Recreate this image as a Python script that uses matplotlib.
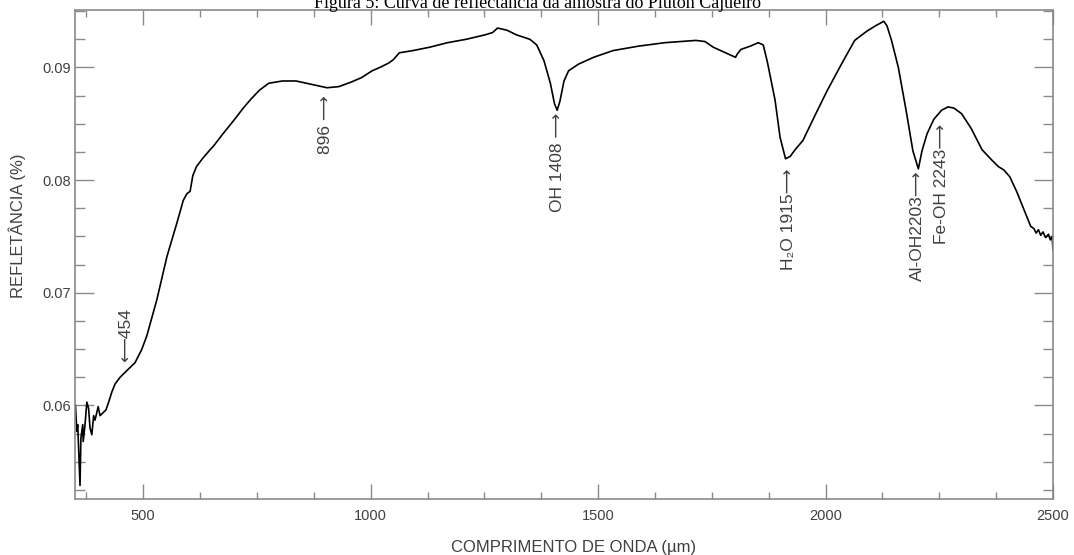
import matplotlib
matplotlib.use("Agg")
import matplotlib.pyplot as plt
from matplotlib.ticker import MultipleLocator

# Reflectance curve
wavelength = [
    351, 354, 356, 361, 363, 367, 368, 372, 376, 380, 383, 387, 391, 394,
    401, 405, 413, 418, 424, 431, 438, 449, 464, 482, 497, 508, 530, 552,
    574, 588, 596, 603, 609, 617, 630, 647, 654, 675, 699, 720, 737, 756,
    776, 806, 836, 870, 904, 930, 957, 980, 1003, 1020, 1040, 1050, 1063,
    1093, 1130, 1169, 1210, 1252, 1268, 1279, 1300, 1320, 1350, 1365, 1381,
    1395, 1404, 1410, 1416, 1425, 1435, 1457, 1490, 1533, 1590, 1647, 1715,
    1735, 1753, 1780, 1802, 1806, 1814, 1835, 1852, 1863, 1872, 1889, 1900,
    1912, 1922, 1935, 1950, 1975, 2003, 2035, 2064, 2090, 2110, 2128, 2135,
    2145, 2160, 2177, 2192, 2204, 2212, 2223, 2238, 2255, 2269, 2282, 2299,
    2320, 2344, 2365, 2380, 2392, 2405, 2420, 2440, 2451, 2458, 2463, 2468,
    2473, 2478, 2484, 2490, 2494, 2498, 2500,
]
reflectance = [
    0.0600, 0.0577, 0.0583, 0.0529, 0.0571, 0.0583, 0.0568, 0.0583, 0.0603,
    0.0597, 0.0580, 0.0574, 0.0591, 0.0587, 0.0599, 0.0591, 0.0594, 0.0596,
    0.0603, 0.0612, 0.0619, 0.0625, 0.0631, 0.0638, 0.0650, 0.0662, 0.0694,
    0.0732, 0.0762, 0.0782, 0.0788, 0.0790, 0.0804, 0.0812, 0.0819, 0.0827,
    0.0830, 0.0841, 0.0853, 0.0864, 0.0872, 0.0880, 0.0886, 0.0888, 0.0888,
    0.0885, 0.0882, 0.0883, 0.0887, 0.0891, 0.0897, 0.0900, 0.0904, 0.0907,
    0.0913, 0.0915, 0.0918, 0.0922, 0.0925, 0.0929, 0.0931, 0.0935, 0.0933,
    0.0929, 0.0925, 0.0920, 0.0906, 0.0886, 0.0868, 0.0862, 0.0870, 0.0888,
    0.0897, 0.0903, 0.0909, 0.0915, 0.0919, 0.0922, 0.0924, 0.0923, 0.0918,
    0.0913, 0.0909, 0.0912, 0.0916, 0.0919, 0.0922, 0.0920, 0.0905, 0.0871,
    0.0838, 0.0819, 0.0821, 0.0828, 0.0835, 0.0856, 0.0879, 0.0903, 0.0924,
    0.0932, 0.0937, 0.0941, 0.0937, 0.0924, 0.0900, 0.0862, 0.0826, 0.0810,
    0.0826, 0.0841, 0.0854, 0.0862, 0.0865, 0.0864, 0.0859, 0.0846, 0.0827,
    0.0818, 0.0812, 0.0809, 0.0803, 0.0790, 0.0770, 0.0759, 0.0757, 0.0753,
    0.0756, 0.0751, 0.0754, 0.0749, 0.0752, 0.0747, 0.0750, 0.0738,
]

# absorption feature labels, placed at the end of their arrows
labels = ["\u27f5454", "896 \u27f6", "OH 1408 \u27f6", "H\u2082O 1915\u27f6",
          "Al-OH2203\u27f6", "Fe-OH 2243\u27f6"]
label_wl = [462, 900, 1410, 1919, 2203, 2254]
label_r = [0.0639, 0.0875, 0.0860, 0.0810, 0.0809, 0.0850]
label_down = [True, False, False, False, False, False]

title = "Figura 5: Curva de reflect\u00e2ncia da amostra do Pl\u00faton Cajueiro"

gray = "#8a8a8a"
text_gray = "#404040"
sans = ["Liberation Sans", "DejaVu Sans"]

fig = plt.figure(figsize=(10.74, 5.55), dpi=100)
ax = fig.add_axes([75 / 1074, 1 - 499 / 555, 978 / 1074, 489 / 555])

ax.plot(wavelength, reflectance, color="black", lw=1.2)

for txt, wl, r, down in zip(labels, label_wl, label_r, label_down):
    ax.text(wl, r, txt, rotation=90, ha="center",
            va="bottom" if down else "top",
            fontsize=12.5, color=text_gray, family=sans)

ax.set_xlim(350, 2500)
ax.set_ylim(0.0517, 0.0951)
ax.xaxis.set_major_locator(MultipleLocator(500))
ax.xaxis.set_minor_locator(MultipleLocator(125))
ax.yaxis.set_major_locator(MultipleLocator(0.01))
ax.yaxis.set_minor_locator(MultipleLocator(0.0025))
ax.set_yticks([0.06, 0.07, 0.08, 0.09])

for side in ax.spines.values():
    side.set_color(gray)
    side.set_linewidth(1.2)

ax.tick_params(axis="both", which="both", direction="in", color=gray,
               width=1.0, top=True, right=True, labelcolor=text_gray,
               labelsize=10.5)
ax.tick_params(axis="x", which="major", length=10.5, pad=7)
ax.tick_params(axis="x", which="minor", length=5.3)
ax.tick_params(axis="y", which="major", length=13.7, pad=3)
ax.tick_params(axis="y", which="minor", length=7.5)
for lab in ax.get_xticklabels() + ax.get_yticklabels():
    lab.set_family(sans)

ax.set_xlabel("COMPRIMENTO DE ONDA (\u00b5m)", fontsize=12, color=text_gray,
              family=sans)
ax.set_ylabel("REFLET\u00c2NCIA (%)", fontsize=12, color=text_gray,
              family=sans)
ax.xaxis.set_label_coords(0.51, -0.084)
ax.yaxis.set_label_coords(-0.050, 0.558)

fig.text(0.5, 1 - 8 / 555, title, ha="center", va="baseline",
         fontsize=13, family="Liberation Serif", color="black")

fig.savefig("out.png", dpi=100)
